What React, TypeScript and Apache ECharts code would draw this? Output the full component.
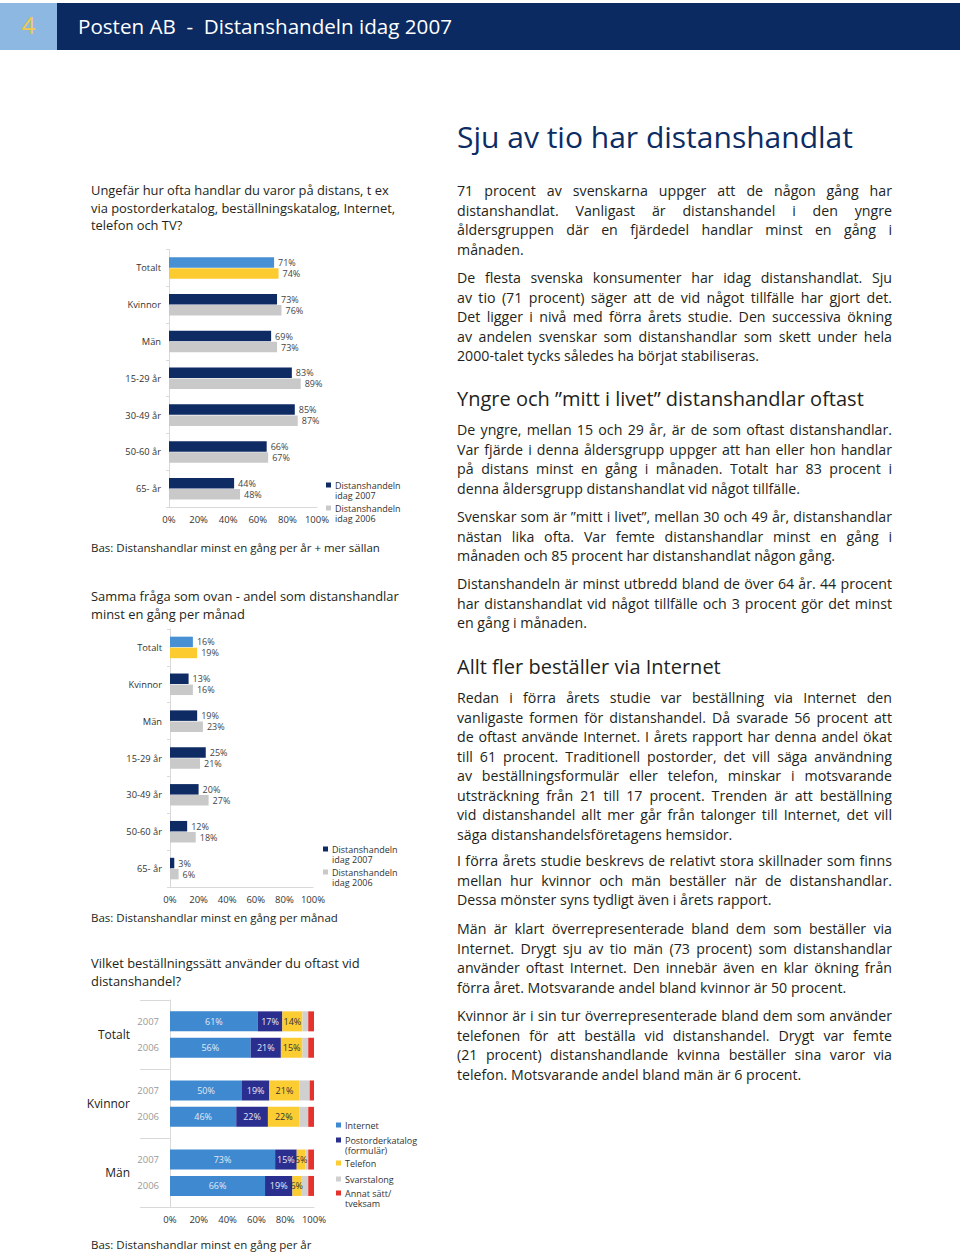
import React, { useEffect, useRef } from "react";
import * as echarts from "echarts";

const FONT = "'Open Sans', 'Noto Sans', sans-serif";

// ---- Chart 1 & 2 data ----
const groupLabels = ["Totalt", "Kvinnor", "Män", "15-29 år", "30-49 år", "50-60 år", "65- år"];
const seriesNames = ["Distanshandeln idag 2007", "Distanshandeln idag 2006"];
const legendLabels = ["Distanshandeln\nidag 2007", "Distanshandeln\nidag 2006"];
const everShopped2007 = [71, 73, 69, 83, 85, 66, 44];
const everShopped2006 = [74, 76, 73, 89, 87, 67, 48];
const monthly2007 = [16, 13, 19, 25, 20, 12, 3];
const monthly2006 = [19, 16, 23, 21, 27, 18, 6];

// ---- Chart 3 data ----
const methodGroups = ["Totalt", "Kvinnor", "Män"];
const methodYears = ["2007", "2006"];
const methodNames = ["Internet", "Postorderkatalog (formulär)", "Telefon", "Svarstalong", "Annat sätt/tveksam"];
const methodLegend = ["Internet", "Postorderkatalog\n(formulär)", "Telefon", "Svarstalong", "Annat sätt/\ntveksam"];
const internet2007 = [61, 50, 73];
const postorder2007 = [17, 19, 15];
const telefon2007 = [14, 21, 6];
const svarstalong2007 = [4, 7, 2];
const annat2007 = [4, 3, 4];
const internet2006 = [56, 46, 66];
const postorder2006 = [21, 22, 19];
const telefon2006 = [15, 22, 6];
const svarstalong2006 = [4, 6, 5];
const annat2006 = [4, 4, 4];

const C = {
  navy: "#0e2b64",
  gray06: "#c9c9c9",
  blue: "#4790d3",
  yellow: "#fccb30",
  internet: "#3e89d0",
  post: "#2a2e8e",
  telefon: "#fccc33",
  svars: "#d0d0d0",
  annat: "#e5322c",
  axis: "#d9d9d9",
  label: "#333333",
};
const methodColors = [C.internet, C.post, C.telefon, C.svars, C.annat];

// ---- Text content ----
const question1 = [
  "Ungefär hur ofta handlar du varor på distans, t ex",
  "via postorderkatalog, beställningskatalog, Internet,",
  "telefon och TV?",
];
const base1 = "Bas: Distanshandlar minst en gång per år + mer sällan";
const question2 = ["Samma fråga som ovan - andel som distanshandlar", "minst en gång per månad"];
const base2 = "Bas: Distanshandlar minst en gång per månad";
const question3 = ["Vilket beställningssätt använder du oftast vid", "distanshandel?"];
const base3 = "Bas: Distanshandlar minst en gång per år";

const heading1 = "Sju av tio har distanshandlat";
const heading2 = "Yngre och ”mitt i livet” distanshandlar oftast";
const heading3 = "Allt fler beställer via Internet";
const p1 = [
  "71 procent av svenskarna uppger att de någon gång har",
  "distanshandlat. Vanligast är distanshandel i den yngre",
  "åldersgruppen där en fjärdedel handlar minst en gång i",
  "månaden.",
];
const p2 = [
  "De flesta svenska konsumenter har idag distanshandlat. Sju",
  "av tio (71 procent) säger att de vid något tillfälle har gjort det.",
  "Det ligger i nivå med förra årets studie. Den successiva ökning",
  "av andelen svenskar som distanshandlar som skett under hela",
  "2000-talet tycks således ha börjat stabiliseras.",
];
const p3 = [
  "De yngre, mellan 15 och 29 år, är de som oftast distanshandlar.",
  "Var fjärde i denna åldersgrupp uppger att han eller hon handlar",
  "på distans minst en gång i månaden. Totalt har 83 procent i",
  "denna åldersgrupp distanshandlat vid något tillfälle.",
];
const p4 = [
  "Svenskar som är ”mitt i livet”, mellan 30 och 49 år, distanshandlar",
  "nästan lika ofta. Var femte distanshandlar minst en gång i",
  "månaden och 85 procent har distanshandlat någon gång.",
];
const p5 = [
  "Distanshandeln är minst utbredd bland de över 64 år. 44 procent",
  "har distanshandlat vid något tillfälle och 3 procent gör det minst",
  "en gång i månaden.",
];
const p6 = [
  "Redan i förra årets studie var beställning via Internet den",
  "vanligaste formen för distanshandel. Då svarade 56 procent att",
  "de oftast använde Internet. I årets rapport har denna andel ökat",
  "till 61 procent. Traditionell postorder, det vill säga användning",
  "av beställningsformulär eller telefon, minskar i motsvarande",
  "utsträckning från 21 till 17 procent. Trenden är att beställning",
  "vid distanshandel allt mer går från talonger till Internet, det vill",
  "säga distanshandelsföretagens hemsidor.",
];
const p7 = [
  "I förra årets studie beskrevs de relativt stora skillnader som finns",
  "mellan hur kvinnor och män beställer när de distanshandlar.",
  "Dessa mönster syns tydligt även i årets rapport.",
];
const p8 = [
  "Män är klart överrepresenterade bland dem som beställer via",
  "Internet. Drygt sju av tio män (73 procent) som distanshandlar",
  "använder oftast Internet. Den innebär även en klar ökning från",
  "förra året. Motsvarande andel bland kvinnor är 50 procent.",
];
const p9 = [
  "Kvinnor är i sin tur överrepresenterade bland dem som använder",
  "telefonen för att beställa vid distanshandel. Drygt var femte",
  "(21 procent) distanshandlande kvinna beställer sina varor via",
  "telefon. Motsvarande andel bland män är 6 procent.",
];

function valueAxis(gridIndex: number) {
  return {
    type: "value",
    gridIndex,
    min: 0,
    max: 100,
    interval: 20,
    axisLabel: { formatter: "{value}%", fontSize: 9.5, color: C.label, margin: 7, fontFamily: FONT },
    axisLine: { show: true, lineStyle: { color: C.axis } },
    axisTick: { show: false },
    splitLine: { show: false },
  };
}

function catAxis(gridIndex: number, data: string[], fontSize: number, margin: number, tickLen: number, color: string) {
  return {
    type: "category",
    gridIndex,
    inverse: true,
    data,
    axisLine: { show: true, lineStyle: { color: C.axis } },
    axisTick: { show: true, length: tickLen, lineStyle: { color: C.axis } },
    axisLabel: { fontSize, color, margin, fontFamily: FONT },
  };
}

function pairSeries(gi: number, v07: number[], v06: number[]) {
  const lbl = { show: true, position: "right", distance: 4, formatter: "{c}%", fontSize: 9, color: "#444", fontFamily: FONT };
  return [
    {
      type: "bar",
      name: seriesNames[0],
      xAxisIndex: gi,
      yAxisIndex: gi,
      barWidth: 10.5,
      barGap: "5%",
      itemStyle: { color: C.navy },
      label: lbl,
      data: v07.map((v, i) => (i === 0 ? { value: v, itemStyle: { color: C.blue } } : v)),
    },
    {
      type: "bar",
      name: seriesNames[1],
      xAxisIndex: gi,
      yAxisIndex: gi,
      barWidth: 10.5,
      barGap: "5%",
      itemStyle: { color: C.gray06 },
      label: lbl,
      data: v06.map((v, i) => (i === 0 ? { value: v, itemStyle: { color: C.yellow } } : v)),
    },
  ];
}

function stackSeries(year: string, values: number[][]) {
  const stack = "y" + year;
  const yearLabel = {
    type: "bar",
    name: year,
    stack,
    xAxisIndex: 2,
    yAxisIndex: 2,
    barWidth: 20,
    barGap: "32%",
    silent: true,
    itemStyle: { color: "rgba(0,0,0,0)" },
    label: { show: true, position: "left", distance: 11, formatter: year, color: "#9a9a9a", fontSize: 9.5, fontFamily: FONT },
    data: methodGroups.map(() => 0),
  };
  const parts = methodNames.map((m, k) => ({
    type: "bar",
    name: m,
    stack,
    xAxisIndex: 2,
    yAxisIndex: 2,
    barWidth: 20,
    barGap: "32%",
    itemStyle: { color: methodColors[k] },
    label:
      k < 3
        ? { show: true, position: "inside", formatter: "{c}%", fontSize: 9, color: k === 2 ? "#333" : "#e3eaf6", fontFamily: FONT }
        : { show: false },
    data: values[k],
  }));
  return [yearLabel, ...parts];
}

function legendBlock(x: number, firstLineYs: number[], labels: string[], colors: string[], size: number) {
  const out: any[] = [];
  labels.forEach((t, i) => {
    const cy = firstLineYs[i];
    out.push({ type: "rect", shape: { x, y: cy - size / 2, width: size, height: size }, style: { fill: colors[i] }, silent: true });
    out.push({
      type: "text",
      x: x + size + 4,
      y: cy - 5.25,
      style: { text: t, fill: "#333", fontSize: 9, fontFamily: FONT, lineHeight: 10.5, verticalAlign: "top" },
      silent: true,
    });
  });
  return out;
}

function Para(props: { x: number; y: number; w: number; lines: string[]; size: number; lh: number; justify?: boolean; color?: string }) {
  const { x, y, w, lines, size, lh, justify, color } = props;
  return (
    <div
      style={{
        position: "absolute",
        left: x,
        top: y - lh / 2,
        width: w,
        fontSize: size,
        lineHeight: lh + "px",
        color: color || "#231f20",
        fontFamily: FONT,
      }}
    >
      {lines.map((l, i) => {
        const j = justify && i < lines.length - 1;
        return (
          <div key={i} style={{ textAlign: j ? "justify" : "left", textAlignLast: j ? "justify" : "auto" } as any}>
            {l}
          </div>
        );
      })}
    </div>
  );
}

export default function App() {
  const ref = useRef<HTMLDivElement>(null);
  useEffect(() => {
    if (!ref.current) return;
    const chart = echarts.init(ref.current, undefined, { renderer: "svg" });
    const option: any = {
      animation: false,
      textStyle: { fontFamily: FONT },
      grid: [
        { left: 169, top: 249.6, width: 148, height: 257.5 },
        { left: 170, top: 629, width: 143, height: 258 },
        { left: 170, top: 1000, width: 144, height: 207.3 },
      ],
      xAxis: [valueAxis(0), valueAxis(1), valueAxis(2)],
      yAxis: [
        catAxis(0, groupLabels, 9.3, 8, 3, C.label),
        catAxis(1, groupLabels, 9.3, 8, 3, C.label),
        catAxis(2, methodGroups, 12, 40, 30, "#222"),
      ],
      series: [
        ...pairSeries(0, everShopped2007, everShopped2006),
        ...pairSeries(1, monthly2007, monthly2006),
        ...stackSeries(methodYears[0], [internet2007, postorder2007, telefon2007, svarstalong2007, annat2007]),
        ...stackSeries(methodYears[1], [internet2006, postorder2006, telefon2006, svarstalong2006, annat2006]),
      ],
      graphic: [
        ...legendBlock(326, [485, 508], legendLabels, [C.navy, C.gray06], 5),
        ...legendBlock(323, [849, 872], legendLabels, [C.navy, C.gray06], 5),
        ...legendBlock(336, [1125, 1140, 1163, 1179, 1193], methodLegend, methodColors, 5),
      ],
    };
    chart.setOption(option);
    return () => chart.dispose();
  }, []);

  return (
    <div style={{ position: "absolute", left: 0, top: 0, width: 960, height: 1255, background: "#fff", overflow: "hidden", fontFamily: FONT }}>
      <div style={{ position: "absolute", left: 0, top: 3, width: 57, height: 47, background: "#8db8e1" }} />
      <div style={{ position: "absolute", left: 0, top: 3, width: 57, height: 47, lineHeight: "44px", textAlign: "center", color: "#f4c84a", fontSize: 24 }}>4</div>
      <div style={{ position: "absolute", left: 57, top: 3, width: 903, height: 47, background: "#0b2a62" }} />
      <div style={{ position: "absolute", left: 78, top: 3, height: 47, lineHeight: "47px", color: "#fff", fontSize: 20.6, whiteSpace: "pre" }}>
        {"Posten AB  -  Distanshandeln idag 2007"}
      </div>

      <div ref={ref} style={{ position: "absolute", left: 0, top: 0, width: 960, height: 1255 }} />

      <div style={{ position: "absolute", left: 457, top: 117, lineHeight: "40px", fontSize: 30, color: "#0c2c64", whiteSpace: "nowrap" }}>{heading1}</div>
      <div style={{ position: "absolute", left: 457, top: 385, lineHeight: "28px", fontSize: 20, color: "#231f20", whiteSpace: "nowrap" }}>{heading2}</div>
      <div style={{ position: "absolute", left: 457, top: 653, lineHeight: "28px", fontSize: 20, color: "#231f20", whiteSpace: "nowrap" }}>{heading3}</div>

      <Para x={457} y={191} w={435} lines={p1} size={14.2} lh={19.5} justify />
      <Para x={457} y={278} w={435} lines={p2} size={14.2} lh={19.5} justify />
      <Para x={457} y={430} w={435} lines={p3} size={14.2} lh={19.5} justify />
      <Para x={457} y={517} w={435} lines={p4} size={14.2} lh={19.5} justify />
      <Para x={457} y={584} w={435} lines={p5} size={14.2} lh={19.5} justify />
      <Para x={457} y={698} w={435} lines={p6} size={14.2} lh={19.5} justify />
      <Para x={457} y={861} w={435} lines={p7} size={14.2} lh={19.5} justify />
      <Para x={457} y={929} w={435} lines={p8} size={14.2} lh={19.5} justify />
      <Para x={457} y={1016} w={435} lines={p9} size={14.2} lh={19.5} justify />

      <Para x={91} y={191} w={340} lines={question1} size={12.9} lh={17.5} />
      <Para x={91} y={548} w={340} lines={[base1]} size={11.5} lh={16} />
      <Para x={91} y={597} w={340} lines={question2} size={12.9} lh={17.5} />
      <Para x={91} y={918} w={340} lines={[base2]} size={11.5} lh={16} />
      <Para x={91} y={964} w={340} lines={question3} size={12.9} lh={17.5} />
      <Para x={91} y={1245} w={340} lines={[base3]} size={11.5} lh={16} />
    </div>
  );
}
